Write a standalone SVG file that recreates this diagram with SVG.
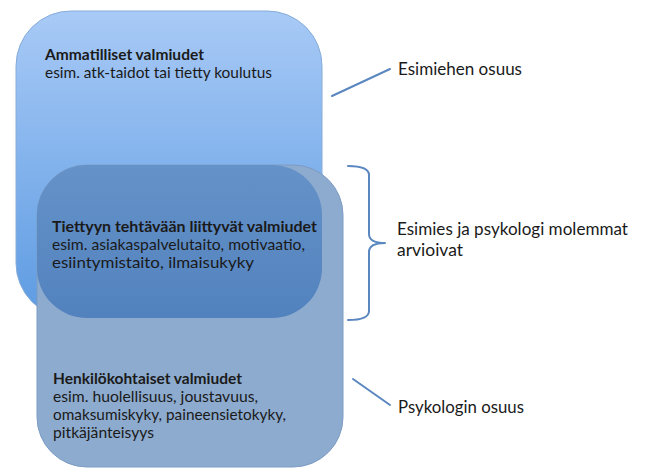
<svg xmlns="http://www.w3.org/2000/svg" width="645" height="471" viewBox="0 0 645 471">
  <defs>
    <linearGradient id="gTop" x1="0" y1="0" x2="0" y2="1">
      <stop offset="0" stop-color="#a8caf6"/>
      <stop offset="1" stop-color="#5d9be2"/>
    </linearGradient>
    <linearGradient id="gMid" x1="0" y1="0" x2="0" y2="1">
      <stop offset="0" stop-color="#6592c8"/>
      <stop offset="1" stop-color="#5282be"/>
    </linearGradient>
  </defs>
  <style>
    text { font-family: Lato, "Liberation Sans", Arial, sans-serif; fill: #1a1a1a; }
    .bt { font-size: 15px; }
    .b { font-weight: bold; }
    .lbl { font-size: 17.5px; }
    .conn { fill: none; stroke: #5b87c0; stroke-width: 2; stroke-linecap: round; stroke-linejoin: round; }
  </style>
  <g id="ammatilliset">
    <rect x="16" y="11" width="306" height="307" rx="55" ry="55" fill="url(#gTop)" stroke="#86acd9" stroke-width="1"/>
    <text class="bt b" x="45" y="60" textLength="159" lengthAdjust="spacingAndGlyphs">Ammatilliset valmiudet</text>
    <text class="bt" x="45" y="78" textLength="227" lengthAdjust="spacingAndGlyphs">esim. atk-taidot tai tietty koulutus</text>
  </g>
  <g id="henkilokohtaiset">
    <rect x="37" y="165" width="306" height="302" rx="50" ry="50" fill="#8dabce" stroke="#7c9cc5" stroke-width="1"/>
    <text class="bt b" x="53" y="384" textLength="189" lengthAdjust="spacingAndGlyphs">Henkilökohtaiset valmiudet</text>
    <text class="bt" x="53" y="402" textLength="205" lengthAdjust="spacingAndGlyphs">esim. huolellisuus, joustavuus,</text>
    <text class="bt" x="53" y="420" textLength="233" lengthAdjust="spacingAndGlyphs">omaksumiskyky, paineensietokyky,</text>
    <text class="bt" x="53" y="438" textLength="101" lengthAdjust="spacingAndGlyphs">pitkäjänteisyys</text>
  </g>
  <g id="tiettyyn">
    <rect x="37" y="165" width="285" height="153" rx="50" ry="50" fill="url(#gMid)"/>
    <text class="bt b" x="52" y="232" textLength="265" lengthAdjust="spacingAndGlyphs">Tiettyyn tehtävään liittyvät valmiudet</text>
    <text class="bt" x="52" y="250" textLength="253" lengthAdjust="spacingAndGlyphs">esim. asiakaspalvelutaito, motivaatio,</text>
    <text class="bt" x="52" y="268" textLength="202" lengthAdjust="spacingAndGlyphs">esiintymistaito, ilmaisukyky</text>
  </g>
  <g id="connectors">
    <line class="conn" x1="332" y1="96" x2="390" y2="69"/>
    <path class="conn" d="M348,166 Q369,166 369,175 L369,234 Q369,243 385,243 Q369,243 369,252 L369,311 Q369,320 348,320"/>
    <line class="conn" x1="353" y1="379" x2="390" y2="405"/>
  </g>
  <g id="label-esimies">
    <text class="lbl" x="398" y="75" textLength="124" lengthAdjust="spacingAndGlyphs">Esimiehen osuus</text>
  </g>
  <g id="label-molemmat">
    <text class="lbl" x="397" y="235" textLength="231" lengthAdjust="spacingAndGlyphs">Esimies ja psykologi molemmat</text>
    <text class="lbl" x="397" y="256" textLength="66" lengthAdjust="spacingAndGlyphs">arvioivat</text>
  </g>
  <g id="label-psykologi">
    <text class="lbl" x="398" y="413" textLength="126" lengthAdjust="spacingAndGlyphs">Psykologin osuus</text>
  </g>
</svg>
